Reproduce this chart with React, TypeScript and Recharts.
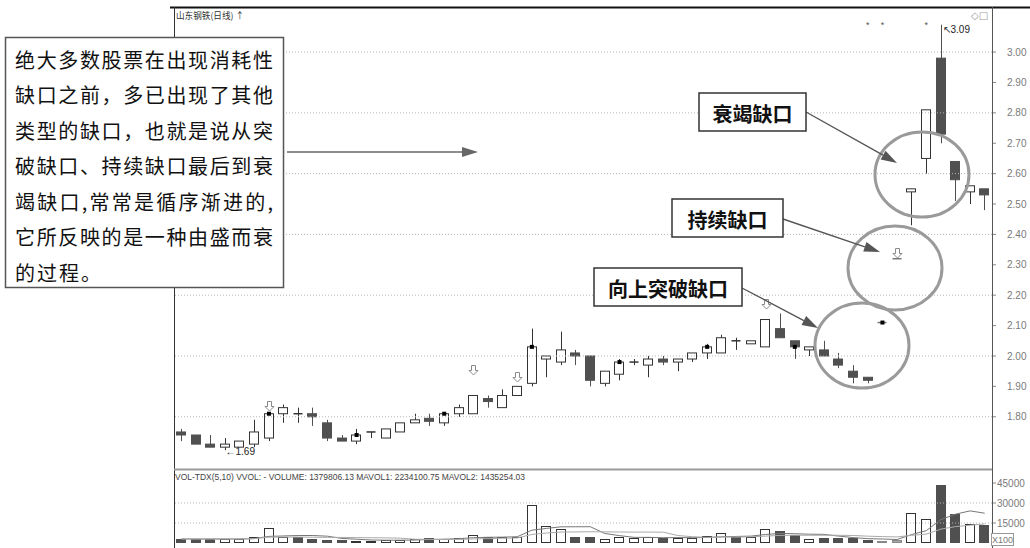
import { ComposedChart, Bar, Line, XAxis, YAxis, ReferenceLine } from 'recharts'

// 山东钢铁 daily bars
const days = [
  1, 2, 3, 4, 5, 6, 7, 8, 9, 10, 11, 12, 13, 14, 15, 16, 17, 18, 19, 20,
  21, 22, 23, 24, 25, 26, 27, 28, 29, 30, 31, 32, 33, 34, 35, 36, 37, 38, 39, 40,
  41, 42, 43, 44, 45, 46, 47, 48, 49, 50, 51, 52, 53, 54, 55, 56,
]
const opens = [
  1.75, 1.74, 1.71, 1.7, 1.7, 1.71, 1.73, 1.81, 1.81, 1.81, 1.78, 1.73, 1.72, 1.75, 1.73, 1.75, 1.78, 1.795, 1.78, 1.81,
  1.81, 1.86, 1.83, 1.87, 1.91, 1.99, 1.98, 2.01, 2.0, 1.91, 1.94, 1.98, 1.97, 1.99, 1.98, 1.99, 2.01, 2.01, 2.05, 2.04,
  2.03, 2.09, 2.05, 2.02, 2.02, 1.99, 1.95, 1.93, 2.11, 2.32, 2.54, 2.65, 2.98, 2.64, 2.54, 2.55,
]
const highs = [
  1.76, 1.74, 1.74, 1.73, 1.72, 1.79, 1.81, 1.84, 1.83, 1.83, 1.79, 1.74, 1.76, 1.75, 1.76, 1.78, 1.81, 1.81, 1.81, 1.84,
  1.87, 1.87, 1.89, 1.9, 2.09, 2.0, 2.08, 2.02, 2.0, 1.95, 1.99, 1.99, 2.0, 2.0, 1.99, 2.01, 2.04, 2.07, 2.06, 2.05,
  2.12, 2.14, 2.05, 2.03, 2.05, 2.01, 1.97, 1.93, 2.11, 2.32, 2.55, 2.81, 3.09, 2.64, 2.56, 2.55,
]
const lows = [
  1.72, 1.71, 1.7, 1.69, 1.7, 1.7, 1.72, 1.78, 1.78, 1.77, 1.72, 1.72, 1.71, 1.73, 1.73, 1.75, 1.78, 1.77, 1.77, 1.8,
  1.81, 1.83, 1.83, 1.87, 1.9, 1.93, 1.97, 1.97, 1.9, 1.9, 1.92, 1.97, 1.93, 1.97, 1.95, 1.98, 1.99, 2.01, 2.02, 2.04,
  2.03, 2.06, 1.99, 2.0, 2.0, 1.96, 1.91, 1.91, 2.11, 2.32, 2.43, 2.6, 2.7, 2.51, 2.5, 2.48,
]
const closes = [
  1.74, 1.71, 1.7, 1.71, 1.72, 1.75, 1.81, 1.83, 1.81, 1.8, 1.73, 1.72, 1.74, 1.75, 1.76, 1.78, 1.79, 1.785, 1.81, 1.83,
  1.87, 1.85, 1.87, 1.9, 2.03, 2.0, 2.02, 2.0, 1.92, 1.95, 1.98, 1.98, 1.99, 1.98, 1.99, 2.01, 2.03, 2.06, 2.05, 2.05,
  2.12, 2.06, 2.03, 2.03, 2.0, 1.97, 1.93, 1.92, 2.11, 2.32, 2.55, 2.81, 2.73, 2.58, 2.56, 2.53,
]
const volumes = [
  3000, 3000, 3000, 3000, 3000, 4700, 11000, 4700, 4700, 3000, 2200, 2500, 1800, 1800, 2200, 2200, 3000, 4000, 3000, 4000,
  6000, 4500, 4500, 4500, 28500, 12700, 10500, 4700, 4700, 3000, 4700, 4000, 4700, 3500, 3500, 4000, 5200, 7200, 4700, 4700,
  10200, 9200, 6000, 3000, 4000, 3700, 3600, 2000, 1600, 2100, 22500, 18000, 43500, 22000, 14400, 13798,
]
const volMa5 = [
  3000, 3000, 3000, 3000, 3000, 3340, 4940, 5280, 5620, 5620, 5120, 3420, 2840, 2260, 2100, 2100, 2200, 2640, 2880, 3240,
  4000, 4300, 4400, 4700, 9600, 10940, 12140, 12180, 12220, 7120, 5520, 4220, 4220, 3980, 4080, 3940, 4180, 4680, 4920, 5160,
  6400, 7200, 6960, 6620, 6480, 5180, 4060, 3260, 2980, 2600, 6360, 9240, 17540, 21620, 24080, 22341,
]
const volMa10 = [
  3000, 3000, 3000, 3000, 3000, 3280, 4390, 4430, 4460, 4310, 4230, 4180, 4060, 3940, 3860, 3610, 2810, 2740, 2570, 2670,
  3050, 3250, 3520, 3790, 6420, 7470, 8220, 8290, 8460, 8360, 8230, 8180, 8200, 8100, 5600, 4730, 4200, 4450, 4450, 4620,
  5170, 5690, 5820, 5770, 5820, 5790, 5630, 5110, 4800, 4540, 5770, 6650, 10400, 12300, 13340, 14353,
]

const priceTicks = [1.8, 1.9, 2.0, 2.1, 2.2, 2.3, 2.4, 2.5, 2.6, 2.7, 2.8, 2.9, 3.0]
const priceGrid = [1.8, 2.0, 2.2, 2.4, 2.6, 2.8, 3.0]
const volumeTicks = [15000, 30000, 45000]
const volumeGrid = [15000, 30000]

// small marks the software prints over some bars
const arrowDays = [7, 21, 24, 41, 50]
const arrowLevels = [1.835, 1.955, 1.93, 2.17, 2.34]
const dotDays = [7, 13, 19, 25, 31, 37, 43, 49]
const starDays = [48, 49, 52]
const starLevel = 3.1
const lowMarkDay = 4
const highMarkDay = 53

const noteLines = [
  '绝大多数股票在出现消耗性',
  '缺口之前，多已出现了其他',
  '类型的缺口，也就是说从突',
  '破缺口、持续缺口最后到衰',
  '竭缺口,常常是循序渐进的,',
  '它所反映的是一种由盛而衰',
  '的过程。',
]

const rows = days.map((day, i) => ({
  day,
  open: opens[i],
  high: highs[i],
  low: lows[i],
  close: closes[i],
  prevClose: i > 0 ? closes[i - 1] : opens[i],
  volume: volumes[i],
  ma5: volMa5[i],
  ma10: volMa10[i],
  arrow: arrowDays.includes(day) ? arrowLevels[arrowDays.indexOf(day)] : null,
  dot: dotDays.includes(day) ? closes[i] : null,
  star: starDays.includes(day) ? starLevel : null,
}))

const INK = '#333'
const DARK = '#505050'
const AXIS_TEXT = '#7a7a7a'
const NUM_FONT = '"Liberation Sans", Arial, sans-serif'
const CJK_FONT = '"Noto Sans CJK SC", sans-serif'

function Candle(props: any) {
  const { x, y, width, height, payload } = props
  if (x == null || y == null || !payload) return <g />
  const { open, close, high, low, day } = payload
  const top = Math.min(y, y + height)
  const h = Math.abs(height)
  const span = high - low
  const py = (v: number) => (span > 0 ? top + ((high - v) / span) * h : top)
  const cx = Math.round(x + width / 2) + 0.5
  const bx = Math.round(x) + 0.5
  const bw = Math.round(width) - 1
  const bTop = py(Math.max(open, close))
  const bBot = py(Math.min(open, close))
  const parts: any[] = []

  if (span === 0) {
    parts.push(<line key="f" x1={bx} x2={bx + bw} y1={top} y2={top} stroke="#777" strokeWidth={1.5} />)
  } else if (close > open) {
    parts.push(<line key="w1" x1={cx} x2={cx} y1={top} y2={bTop} stroke={INK} />)
    parts.push(<line key="w2" x1={cx} x2={cx} y1={bBot} y2={top + h} stroke={INK} />)
    parts.push(
      <rect key="b" x={bx} y={bTop} width={bw} height={Math.max(bBot - bTop, 1)} fill="#fff" stroke={INK} />,
    )
  } else if (close < open) {
    parts.push(<line key="w" x1={cx} x2={cx} y1={top} y2={top + h} stroke={DARK} />)
    parts.push(
      <rect key="b" x={bx} y={bTop} width={bw} height={Math.max(bBot - bTop, 1.5)} fill={DARK} stroke={DARK} />,
    )
  } else {
    parts.push(<line key="w" x1={cx} x2={cx} y1={top} y2={top + h} stroke={INK} />)
    parts.push(<line key="b" x1={bx} x2={bx + bw} y1={bTop} y2={bTop} stroke={INK} strokeWidth={1.5} />)
  }

  if (day === lowMarkDay) {
    parts.push(
      <text key="lo" x={cx} y={top + h + 1} fontSize={10} fill="#222" fontFamily={NUM_FONT} dominantBaseline="central">
        {'←' + low.toFixed(2)}
      </text>,
    )
  }
  if (day === highMarkDay) {
    parts.push(
      <text key="hi" x={cx + 1} y={top + 5} fontSize={10} fill="#222" fontFamily={NUM_FONT} dominantBaseline="central">
        {'↖' + high.toFixed(2)}
      </text>,
    )
  }
  return <g>{parts}</g>
}

function VolumeBar(props: any) {
  const { x, y, width, height, payload } = props
  if (x == null || y == null || !payload) return <g />
  const { open, close, high, low, prevClose } = payload
  let fill = '#fff'
  let stroke = INK
  if (high === low) {
    fill = '#aaa'
    stroke = '#888'
  } else if (close < open || (close === open && close < prevClose)) {
    fill = DARK
    stroke = DARK
  }
  return (
    <rect
      x={Math.round(x) + 0.5}
      y={Math.round(y) + 0.5}
      width={Math.round(width) - 1}
      height={Math.max(Math.round(height) - 1, 1)}
      fill={fill}
      stroke={stroke}
    />
  )
}

// hollow down-arrow, as the software draws it
const ArrowMark = (p: any) => {
  if (p.value == null || p.cy == null) return <g key={p.key} />
  const cx = Math.round(p.cx) + 0.5
  const cy = Math.round(p.cy) + 0.5
  const pts = [
    [cx - 2, cy - 5],
    [cx + 2, cy - 5],
    [cx + 2, cy],
    [cx + 4.5, cy],
    [cx, cy + 4.5],
    [cx - 4.5, cy],
    [cx - 2, cy],
  ]
  return <polygon key={p.key} points={pts.map((q) => q.join(',')).join(' ')} fill="#fff" stroke="#8a8a8a" strokeWidth={1} />
}

const DotMark = (p: any) =>
  p.value == null || p.cy == null ? <g key={p.key} /> : <rect key={p.key} x={p.cx - 2} y={p.cy - 2} width={4} height={4} fill="#000" />

const StarMark = (p: any) =>
  p.value == null || p.cy == null ? (
    <g key={p.key} />
  ) : (
    <text key={p.key} x={p.cx} y={p.cy + 3} fontSize={9} fill="#555" textAnchor="middle" dominantBaseline="central" fontFamily={NUM_FONT}>
      *
    </text>
  )

function Arrow({ x1, y1, x2, y2, color }: any) {
  const a = Math.atan2(y2 - y1, x2 - x1)
  const len = 16
  const half = 5
  const bx = x2 - len * Math.cos(a)
  const by = y2 - len * Math.sin(a)
  const pts = [
    [x2, y2],
    [bx + half * Math.sin(a), by - half * Math.cos(a)],
    [bx - half * Math.sin(a), by + half * Math.cos(a)],
  ]
  return (
    <g>
      <line x1={x1} y1={y1} x2={bx} y2={by} stroke={color} strokeWidth={1.4} />
      <polygon points={pts.map((p) => p.join(',')).join(' ')} fill={color} />
    </g>
  )
}

function LabelBox({ x, y, w, h, text }: any) {
  return (
    <g>
      <rect x={x} y={y} width={w} height={h} fill="#fff" stroke="#333" strokeWidth={1.5} />
      <text
        x={x + w / 2}
        y={y + h / 2 + 1}
        textAnchor="middle"
        dominantBaseline="central"
        fontSize={20}
        fontWeight={700}
        fill="#111"
        fontFamily={CJK_FONT}
      >
        {text}
      </text>
    </g>
  )
}

export default function App() {
  return (
    <div style={{ position: 'absolute', left: 0, top: 0, width: 1030, height: 548, background: '#fff', overflow: 'hidden' }}>
      <div style={{ position: 'absolute', left: 0, top: 0 }}>
        <ComposedChart width={1030} height={470} data={rows} margin={{ top: 8, right: 0, bottom: 4, left: 174 }}>
          <XAxis dataKey="day" type="category" hide />
          <YAxis
            orientation="right"
            width={38}
            domain={[1.638, 3.145]}
            ticks={priceTicks}
            allowDataOverflow
            axisLine={false}
            tickLine={{ stroke: '#888' }}
            tickSize={4}
            tickMargin={11}
            tick={{ fontSize: 10, fill: AXIS_TEXT, fontFamily: NUM_FONT }}
            tickFormatter={(v: number) => v.toFixed(2)}
          />
          {priceGrid.map((v) => (
            <ReferenceLine key={v} y={v} stroke="#b5b5b5" strokeDasharray="1 2" />
          ))}
          <Bar dataKey={(d: any) => [d.low, d.high]} barSize={10} shape={<Candle />} isAnimationActive={false} />
          <Line dataKey="arrow" stroke="none" dot={ArrowMark} activeDot={false} isAnimationActive={false} />
          <Line dataKey="dot" stroke="none" dot={DotMark} activeDot={false} isAnimationActive={false} />
          <Line dataKey="star" stroke="none" dot={StarMark} activeDot={false} isAnimationActive={false} />
        </ComposedChart>
      </div>

      <div style={{ position: 'absolute', left: 0, top: 466 }}>
        <ComposedChart width={1030} height={82} data={rows} margin={{ top: 4, right: 0, bottom: 5, left: 174 }}>
          <XAxis dataKey="day" type="category" hide />
          <YAxis
            orientation="right"
            width={38}
            domain={[0, 54750]}
            ticks={volumeTicks}
            allowDataOverflow
            axisLine={false}
            tickLine={{ stroke: '#888' }}
            tickSize={4}
            tickMargin={1}
            tick={{ fontSize: 10, fill: AXIS_TEXT, fontFamily: NUM_FONT }}
          />
          {volumeGrid.map((v) => (
            <ReferenceLine key={v} y={v} stroke="#b5b5b5" strokeDasharray="1 2" />
          ))}
          <Bar dataKey="volume" barSize={10} shape={<VolumeBar />} isAnimationActive={false} />
          <Line dataKey="ma5" stroke="#777" strokeWidth={1} dot={false} activeDot={false} isAnimationActive={false} />
          <Line dataKey="ma10" stroke="#aaa" strokeWidth={1} dot={false} activeDot={false} isAnimationActive={false} />
        </ComposedChart>
      </div>

      <svg width={1030} height={548} style={{ position: 'absolute', left: 0, top: 0, pointerEvents: 'none' }}>
        {/* frame */}
        <line x1={170} y1={7.5} x2={1030} y2={7.5} stroke="#111" strokeWidth={2} />
        <line x1={174.5} y1={7} x2={174.5} y2={548} stroke="#333" />
        <line x1={992.5} y1={7} x2={992.5} y2={548} stroke="#555" />
        <line x1={174} y1={469.5} x2={992} y2={469.5} stroke="#9a9a9a" strokeWidth={2} />

        <text x={176} y={15} fontSize={9} fill="#333" fontFamily={CJK_FONT} dominantBaseline="central" textLength={68} lengthAdjust="spacingAndGlyphs">
          山东钢铁(日线) ↑
        </text>
        <text x={971} y={15} fontSize={10} fill="#999" fontFamily='"DejaVu Sans"' dominantBaseline="central">
          ◇□
        </text>

        <text x={175} y={477} fontSize={9} fill="#444" fontFamily={NUM_FONT} dominantBaseline="central" textLength={350} lengthAdjust="spacingAndGlyphs">
          VOL-TDX(5,10) VVOL: -  VOLUME: 1379806.13  MAVOL1: 2234100.75  MAVOL2: 1435254.03
        </text>
        <rect x={991.5} y={533.5} width={22} height={12} fill="#fff" stroke="#999" />
        <text x={1002.5} y={540} fontSize={9} fill="#777" fontFamily={NUM_FONT} textAnchor="middle" dominantBaseline="central">
          X100
        </text>

        {/* gap circles */}
        <ellipse cx={922} cy={174.5} rx={47} ry={42.5} fill="none" stroke="#9a9a9a" strokeWidth={3} />
        <ellipse cx={895} cy={268} rx={47} ry={42} fill="none" stroke="#9a9a9a" strokeWidth={3} />
        <ellipse cx={862} cy={345.5} rx={47} ry={42.5} fill="none" stroke="#9a9a9a" strokeWidth={3} />

        <Arrow x1={806} y1={112} x2={897} y2={163} color="#555" />
        <Arrow x1={783} y1={219} x2={880} y2={252} color="#555" />
        <Arrow x1={742} y1={288} x2={818} y2={328} color="#555" />
        <Arrow x1={287} y1={152} x2={478} y2={152} color="#666" />

        <LabelBox x={699} y={93} w={107} h={38} text="衰竭缺口" />
        <LabelBox x={672} y={199} w={111} h={38} text="持续缺口" />
        <LabelBox x={594} y={268} w={148} h={38} text="向上突破缺口" />

        {/* explanatory note */}
        <rect x={5.5} y={37.5} width={278} height={250} fill="#fff" stroke="#555" strokeWidth={1.5} />
        {noteLines.map((t, i) => (
          <text
            key={i}
            x={15}
            y={59 + i * 35.5}
            fontSize={20}
            fill="#111"
            fontFamily={CJK_FONT}
            dominantBaseline="central"
            textLength={i === noteLines.length - 1 ? 86 : 258}
            lengthAdjust="spacing"
          >
            {t}
          </text>
        ))}
      </svg>
    </div>
  )
}
